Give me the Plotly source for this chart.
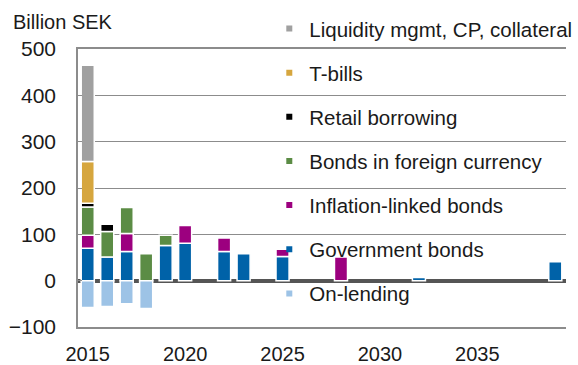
import plotly.graph_objects as go

years = list(range(2015, 2040))

def series(values):
    return [values.get(y) for y in years]

government = series({2015: 70, 2016: 51, 2017: 63, 2019: 76, 2020: 81, 2022: 63,
                     2023: 58, 2025: 52, 2032: 7, 2039: 41})
inflation_linked = series({2015: 28, 2017: 39, 2020: 38, 2022: 29, 2025: 16, 2028: 51})
foreign_currency = series({2015: 61, 2016: 55, 2017: 56, 2018: 58, 2019: 22})
retail = series({2015: 8, 2016: 16})
t_bills = series({2015: 90})
liquidity = series({2015: 208})
on_lending = series({2015: -58, 2016: -56, 2017: -50, 2018: -60})

stack = [
    ("Government bonds", government, "#0062A8"),
    ("Inflation-linked bonds", inflation_linked, "#9C007F"),
    ("Bonds in foreign currency", foreign_currency, "#5B8C45"),
    ("Retail borrowing", retail, "#000000"),
    ("T-bills", t_bills, "#D6A63E"),
    ("Liquidity mgmt, CP, collateral", liquidity, "#A0A0A0"),
    ("On-lending", on_lending, "#9DC3E6"),
]

legend_order = [
    "Liquidity mgmt, CP, collateral", "T-bills", "Retail borrowing",
    "Bonds in foreign currency", "Inflation-linked bonds", "Government bonds",
    "On-lending",
]

FONT = "Liberation Sans, Arial, sans-serif"
TEXT = "#1a1a1a"
GRID = "#8c8c8c"

fig = go.Figure()
colors = {}
for name, vals, color in stack:
    colors[name] = color
    fig.add_trace(go.Bar(
        x=years, y=vals, name=name, showlegend=False,
        marker=dict(color=color, line=dict(color="white", width=1.5)),
    ))

# legend entries with small square swatches
for i, name in enumerate(legend_order):
    fig.add_trace(go.Scatter(
        x=[None], y=[None], mode="markers", name=name, legendgroup=f"g{i}",
        marker=dict(symbol="square", size=6, color=colors[name]),
    ))

fig.update_layout(
    width=578, height=365,
    margin=dict(l=78, r=12, t=49, b=38, autoexpand=False),
    paper_bgcolor="white", plot_bgcolor="white",
    barmode="relative", bargap=0.33,
    font=dict(family=FONT, size=20, color=TEXT),
    legend=dict(
        x=0.392, xanchor="left", y=1.145, yanchor="top",
        bgcolor="rgba(0,0,0,0)", traceorder="grouped", tracegroupgap=14.5,
        font=dict(family=FONT, size=20.5, color=TEXT),
        itemwidth=30, maxheight=400,
    ),
    annotations=[dict(
        text="Billion SEK", xref="paper", yref="paper", x=-0.137, y=1.0,
        xanchor="left", yanchor="bottom", yshift=14, showarrow=False,
        font=dict(family=FONT, size=20, color=TEXT),
    )],
)

fig.update_xaxes(
    range=[2014.5, 2039.55], tickmode="array", tickvals=[2015, 2020, 2025, 2030, 2035],
    ticktext=["2015", "2020", "2025", "2030", "2035"],
    showgrid=False, showline=True, linecolor=GRID, linewidth=1.5, mirror=True,
    ticks="", ticklabelstandoff=8, zeroline=False, automargin=False,
    tickfont=dict(family=FONT, size=20, color=TEXT),
)
fig.update_yaxes(
    range=[-100, 500], tickvals=[-100, 0, 100, 200, 300, 400, 500],
    showgrid=True, gridcolor=GRID, gridwidth=1,
    showline=True, linecolor=GRID, linewidth=1.5,
    ticks="inside", ticklen=4, tickcolor=GRID, automargin=False,
    zeroline=True, zerolinecolor="#555555", zerolinewidth=4,
    ticklabelstandoff=16,
    tickfont=dict(family=FONT, size=21, color=TEXT),
)

fig.write_html("out.html")
